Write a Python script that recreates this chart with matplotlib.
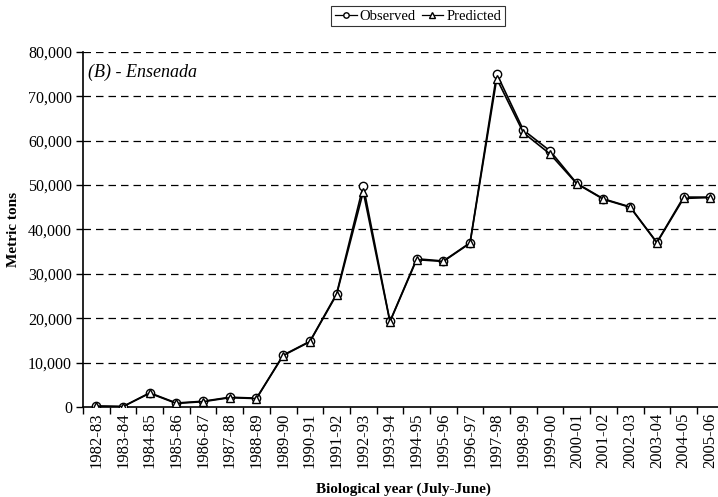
import matplotlib
matplotlib.use("Agg")
import matplotlib.pyplot as plt
from matplotlib.ticker import FuncFormatter, FixedLocator
import numpy as np

years = ["1982-83", "1983-84", "1984-85", "1985-86", "1986-87", "1987-88", "1988-89",
         "1989-90", "1990-91", "1991-92", "1992-93", "1993-94", "1994-95", "1995-96",
         "1996-97", "1997-98", "1998-99", "1999-00", "2000-01", "2001-02", "2002-03",
         "2003-04", "2004-05", "2005-06"]
observed = [200, 100, 3200, 900, 1300, 2200, 2000, 11700, 14800, 25500, 49900, 19300,
            33400, 32900, 37000, 75100, 62400, 57700, 50400, 46900, 45100, 37100, 47300, 47300]
predicted = [200, 100, 3100, 800, 1200, 2100, 1900, 11600, 14700, 25300, 48500, 19200,
             33200, 32800, 36900, 74000, 61800, 57000, 50300, 46800, 45000, 37000, 47000, 47200]

plt.rcParams['font.family'] = ['Liberation Serif', 'DejaVu Serif']

W, H = 718, 497
fig = plt.figure(figsize=(W / 100, H / 100), dpi=100)
left, right, top, bottom = 83, 723.6, 52, 407
ax = fig.add_axes([left / W, 1 - bottom / H, (right - left) / W, (bottom - top) / H])

x = np.arange(len(years))
ax.plot(x, observed, color='black', lw=1.2, marker='o', ms=6, mfc='white', mec='black',
        mew=1.0, label='Observed', zorder=3)
ax.plot(x, predicted, color='black', lw=1.2, marker='^', ms=6, mfc='white', mec='black',
        mew=1.0, label='Predicted', zorder=4)

ax.set_xlim(-0.5, len(years) - 0.5)
ax.set_ylim(0, 80000)
ax.set_yticks(np.arange(0, 80001, 10000))
ax.yaxis.set_major_formatter(FuncFormatter(lambda v, p: f"{int(v):,}"))
for v in range(10000, 80001, 10000):
    ax.axhline(v, color='black', lw=0.9, ls=(0, (6, 4)), zorder=1)

ax.set_xticks(x)
ax.set_xticklabels(years, rotation=90, fontsize=12)
ax.xaxis.set_minor_locator(FixedLocator(np.arange(-0.5, len(years), 1.0)))
ax.tick_params(axis='x', which='major', length=0, pad=4)
ax.tick_params(axis='x', which='minor', length=5, width=1, direction='out')
ax.tick_params(axis='y', length=5, width=1, direction='out', labelsize=11.5, pad=3)

for s in ['top', 'right']:
    ax.spines[s].set_visible(False)
ax.spines['left'].set_linewidth(1.2)
ax.spines['bottom'].set_linewidth(1.2)

ax.set_ylabel("Metric tons", fontsize=11, fontweight='bold', labelpad=6)
ax.set_xlabel("Biological year (July-June)", fontsize=11, fontweight='bold', labelpad=10)
ax.text(0.008, 0.942, "(B) - Ensenada", transform=ax.transAxes, fontsize=13,
        fontstyle='italic', ha='left', va='center')

leg = fig.legend(loc='center', bbox_to_anchor=(418 / W, 1 - 16 / H), ncol=2, frameon=True,
                 fancybox=False, edgecolor='black', fontsize=10.5, handlelength=1.5,
                 handletextpad=0.2, columnspacing=0.4, borderpad=0.25, markerscale=0.65,
                 borderaxespad=0)
leg.get_frame().set_linewidth(0.8)
for line in leg.get_lines():
    line.set_linewidth(0.9)

fig.savefig("out.png", dpi=100)
